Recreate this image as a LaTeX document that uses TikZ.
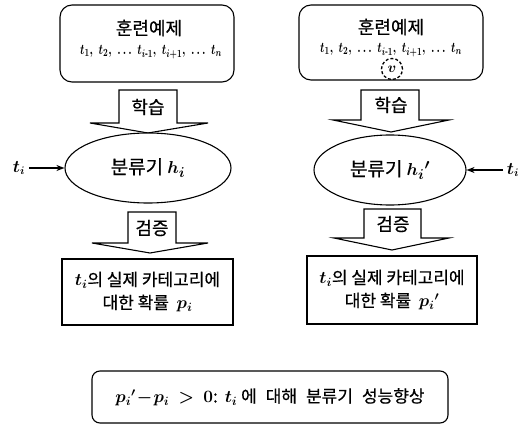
\documentclass[tikz,border=0pt]{standalone}
\usepackage{amsmath}
\usepackage{graphicx}
\usepackage{fontspec}
\setmainfont{Noto Sans CJK KR}[FakeBold=0.5]
\usetikzlibrary{arrows.meta,shapes.geometric}
\newcommand\mymath[1]{\mbox{\boldmath$#1$}}
\newcommand\seqtext{\scalebox{0.75}[1]{\mymath{t_1,\;t_2,\;\dots\;t_{i\text{-}1},\;t_{i+1},\;\dots\;t_n}}}
\begin{document}
\begin{tikzpicture}[x=1pt,y=-1pt,
  line width=1.1pt,
  box/.style={draw,fill=white},
  kor/.style={font=\fontsize{18}{23}\selectfont},
  res/.style={font=\fontsize{17}{23}\selectfont},
  clf/.style={font=\fontsize{19}{23}\selectfont},
  title/.style={font=\fontsize{18}{20}\selectfont},
  seq/.style={font=\fontsize{15}{17}\selectfont},
  blockarrow/.style={draw,fill=white,line join=miter},
  conn/.style={-{Stealth[length=8pt,width=6pt]},line width=1.4pt}]
\useasboundingbox (0,0) rectangle (522,425);

% ---------- left column ----------
\node[box,rounded corners=12pt,minimum width=174pt,minimum height=77pt] (train1) at (147,43.5) {};
\node[title] (title1) at (149,28) {훈련예제};
\node[seq] (seq1) at (151,52) {\seqtext};

\draw[blockarrow] (119,90) -- (177,90) -- (177,123) -- (208,123) -- (148,133) -- (90,123) -- (119,123) -- cycle;
\node[kor] (learn1) at (148,107) {학습};

\node[draw,ellipse,fill=white,minimum width=166pt,minimum height=70pt,clf] (clf1) at (148,168) {분류기 \mymath{h_i}};
\node[font=\fontsize{16}{18}\selectfont] (ti1) at (19,168) {\mymath{t_i}};
\draw[conn] (ti1) -- (clf1);

\draw[blockarrow] (128,212) -- (176,212) -- (176,243) -- (208,243) -- (150,253) -- (92,243) -- (128,243) -- cycle;
\node[kor] (verify1) at (152,228) {검증};

\node[box,minimum width=171pt,minimum height=66pt,res,align=center] (res1) at (147.5,292)
  {\mymath{t_i}의 실제 카테고리에\\대한 확률 \ \mymath{p_i}};

% ---------- right column ----------
\node[box,rounded corners=12pt,minimum width=184pt,minimum height=75pt] (train2) at (391,42.5) {};
\node[title] (title2) at (391,27) {훈련예제};
\node[seq] (seq2) at (391,50) {\seqtext};
\node[draw,circle,line width=1.3pt,dash pattern=on 3pt off 2pt,inner sep=0pt,minimum size=21pt,font=\fontsize{14}{16}\selectfont] (omit) at (392,69) {\mymath{v}};

\draw[blockarrow] (361,90) -- (419,90) -- (419,120) -- (449,120) -- (391,132) -- (333,120) -- (361,120) -- cycle;
\node[kor] (learn2) at (391,105) {학습};

\node[draw,ellipse,fill=white,minimum width=152pt,minimum height=70pt,clf] (clf2) at (390,170) {분류기 \mymath{h_i{}'}};
\node[font=\fontsize{16}{18}\selectfont] (ti2) at (513,170) {\mymath{t_i}};
\draw[conn] (ti2) -- (clf2);

\draw[blockarrow] (364,209) -- (421,209) -- (421,238) -- (449,238) -- (392,250) -- (334,238) -- (364,238) -- cycle;
\node[kor] (verify2) at (393,224) {검증};

\node[box,minimum width=170pt,minimum height=68pt,res,align=center] (res2) at (392,290)
  {\mymath{t_i}의 실제 카테고리에\\대한 확률 \ \mymath{p_i{}'}};

% ---------- conclusion ----------
\node[box,rounded corners=8pt,minimum width=356pt,minimum height=52pt,font=\fontsize{17}{22}\selectfont] (concl) at (270,397)
  {\mymath{p_i{}'\!-\!p_i\ >\ 0}:\hspace{7pt}\mymath{t_i} 에\hspace{9pt}대해\hspace{9pt}분류기\hspace{9pt}성능향상};
\end{tikzpicture}
\end{document}
